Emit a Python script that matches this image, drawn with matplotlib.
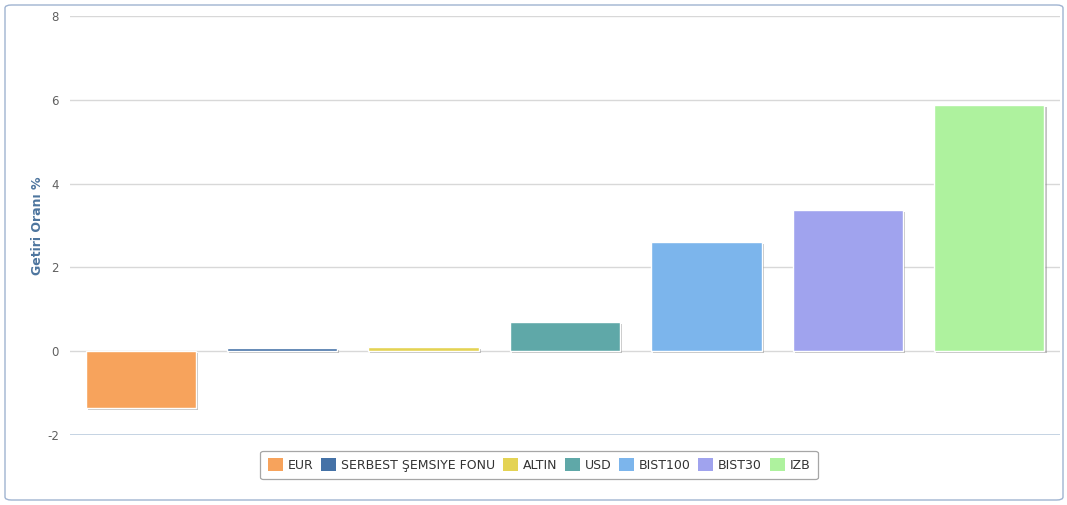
import matplotlib.pyplot as plt
from matplotlib.patches import FancyBboxPatch, Rectangle
import matplotlib.patheffects as pe

categories = ["EUR", "SERBEST ŞEMSIYE FONU", "ALTIN", "USD", "BIST100", "BIST30", "IZB"]
values = [-1.36, 0.07, 0.10, 0.69, 2.60, 3.37, 5.87]
colors = ["#f7a35c", "#4572a7", "#e4d354", "#5fa8a8", "#7cb5ec", "#a0a3ee", "#aef29e"]
yticks = [-2, 0, 2, 4, 6, 8]

fig = plt.figure(figsize=(10.67, 5.05), dpi=100)
fig.patch.set_facecolor("white")

# outer border
border = FancyBboxPatch((5/1067, 5/505), 1058/1067, 495/505,
                        boxstyle="round,pad=0,rounding_size=0.006",
                        transform=fig.transFigure, fill=False,
                        edgecolor="#9fb3d1", linewidth=1.0)
fig.patches.append(border)

ax = fig.add_axes([70/1067, 1 - 435/505, 990/1067, (435-16)/505])
ax.set_xlim(-0.5, len(categories) - 0.5)
ax.set_ylim(-2, 8)
for s in ax.spines.values():
    s.set_visible(False)
ax.set_yticks(yticks)
ax.set_yticklabels([str(t) if t >= 0 else "-2" for t in yticks])
ax.tick_params(axis="y", length=0, pad=8, labelsize=8.5, labelcolor="#606060")
ax.set_xticks([])
for t in yticks:
    if t == -2:
        ax.axhline(t, color="#c0d0e0", lw=1.3, zorder=1)
    else:
        ax.axhline(t, color="#d8d8d8", lw=1.0, zorder=1)

x = list(range(len(categories)))
bars = ax.bar(x, values, width=0.78, color=colors, edgecolor="white", linewidth=1.0, zorder=3)
for b in bars:
    b.set_path_effects([pe.SimplePatchShadow(offset=(1.5, -1.5), shadow_rgbFace="#888888", alpha=0.5),
                        pe.Normal()])

ax.set_ylabel("Getiri Oranı %", color="#4d759e", fontsize=9, fontweight="bold", labelpad=2)

handles = [Rectangle((0, 0), 1, 1, facecolor=c, edgecolor="none") for c in colors]
leg = fig.legend(handles, categories, loc="center", bbox_to_anchor=(539/1067, 1 - 465/505),
                 ncol=7, frameon=True, fontsize=9, handlelength=1.2, handleheight=1.2,
                 handletextpad=0.4, columnspacing=0.6, borderpad=0.6, fancybox=True)
leg.get_frame().set_edgecolor("#909090")
leg.get_frame().set_linewidth(0.9)
for t in leg.get_texts():
    t.set_color("#333333")

fig.savefig("out.png", dpi=100, facecolor="white")
